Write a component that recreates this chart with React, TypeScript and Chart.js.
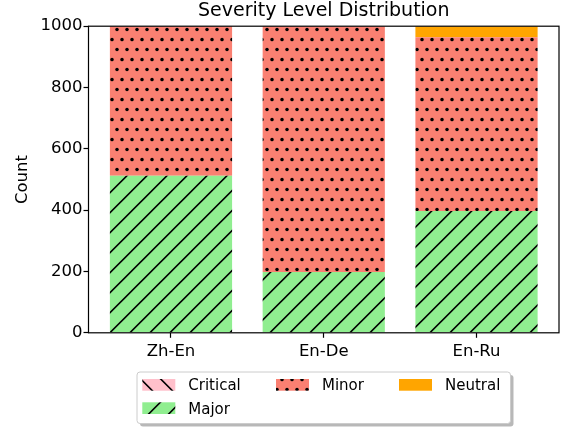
import React, { useEffect, useRef } from 'react';
import { Chart, registerables } from 'chart.js';

Chart.register(...registerables);

// ---- data ----
const categories = ['Zh-En', 'En-De', 'En-Ru'];
const critical = [0, 0, 3];
const major = [512, 198, 394];
const minor = [488, 802, 567];
const neutral = [0, 0, 36];
const seriesNames = ['Critical', 'Major', 'Minor', 'Neutral'];
const yTickStep = 200;
const yMax = 1000;

const FONT = 'DejaVu Sans';

function makeTile(bg: string, draw?: (c: CanvasRenderingContext2D) => void): CanvasPattern | string {
  if (!draw) return bg;
  const cv = document.createElement('canvas');
  cv.width = 20;
  cv.height = 20;
  const c = cv.getContext('2d')!;
  c.fillStyle = bg;
  c.fillRect(0, 0, 20, 20);
  draw(c);
  const p = c.createPattern(cv, 'repeat');
  return p || bg;
}

function slashLines(c: CanvasRenderingContext2D, off: number) {
  c.strokeStyle = '#000';
  c.lineWidth = 1.6;
  c.beginPath();
  for (let k = -1; k <= 2; k++) {
    c.moveTo(off + 20 * k + 5, -5);
    c.lineTo(off + 20 * k - 25, 25);
  }
  c.stroke();
}

function backLines(c: CanvasRenderingContext2D, off: number) {
  c.strokeStyle = '#000';
  c.lineWidth = 1.6;
  c.beginPath();
  for (let k = -2; k <= 1; k++) {
    c.moveTo(off + 20 * k - 5, -5);
    c.lineTo(off + 20 * k + 25, 25);
  }
  c.stroke();
}

function dots(c: CanvasRenderingContext2D) {
  c.fillStyle = '#000';
  const pts: [number, number][] = [];
  for (const dx of [-20, 0, 20]) {
    for (const dy of [-20, 0, 20]) {
      pts.push([2 + dx, 19.5 + dy], [12 + dx, 19.5 + dy], [7 + dx, 9.5 + dy], [17 + dx, 9.5 + dy]);
    }
  }
  for (const [x, y] of pts) {
    c.beginPath();
    c.arc(x, y, 1.75, 0, Math.PI * 2);
    c.fill();
  }
}

export default function App() {
  const ref = useRef<HTMLCanvasElement | null>(null);

  useEffect(() => {
    const canvas = ref.current;
    if (!canvas) return;

    const fills = [
      makeTile('#FFC0CB', (c) => backLines(c, 1.7)),
      makeTile('#90EE90', (c) => slashLines(c, 2.7)),
      makeTile('#FA8072', dots),
      makeTile('#FFA500'),
    ];
    const values = [critical, major, minor, neutral];

    const spines = {
      id: 'spines',
      afterDatasetsDraw(chart: any) {
        const { ctx, chartArea: a } = chart;
        ctx.save();
        ctx.strokeStyle = '#000';
        ctx.lineWidth = 1.2;
        ctx.strokeRect(a.left, a.top, a.right - a.left, a.bottom - a.top);
        ctx.restore();
      },
    };

    const legendBox = {
      id: 'legendBox',
      afterDraw(chart: any) {
        const ctx: CanvasRenderingContext2D = chart.ctx;
        ctx.save();
        const bx = 137, by = 372, bw = 373.5, bh = 51.5, r = 3;
        const rr = (x: number, y: number) => {
          ctx.beginPath();
          ctx.moveTo(x + r, y);
          ctx.lineTo(x + bw - r, y);
          ctx.quadraticCurveTo(x + bw, y, x + bw, y + r);
          ctx.lineTo(x + bw, y + bh - r);
          ctx.quadraticCurveTo(x + bw, y + bh, x + bw - r, y + bh);
          ctx.lineTo(x + r, y + bh);
          ctx.quadraticCurveTo(x, y + bh, x, y + bh - r);
          ctx.lineTo(x, y + r);
          ctx.quadraticCurveTo(x, y, x + r, y);
          ctx.closePath();
        };
        rr(bx + 3, by + 3);
        ctx.fillStyle = 'rgba(0,0,0,0.28)';
        ctx.fill();
        rr(bx, by);
        ctx.fillStyle = '#fff';
        ctx.fill();
        ctx.strokeStyle = '#cccccc';
        ctx.lineWidth = 1;
        ctx.stroke();

        const items = [
          { i: 0, x: 142.3, y: 379 },
          { i: 1, x: 142.3, y: 402.3 },
          { i: 2, x: 276, y: 379 },
          { i: 3, x: 399, y: 379 },
        ];
        ctx.font = `15px "${FONT}"`;
        ctx.textBaseline = 'alphabetic';
        ctx.textAlign = 'left';
        for (const it of items) {
          ctx.fillStyle = fills[it.i] as any;
          ctx.fillRect(it.x, it.y, 33, 11.7);
          ctx.fillStyle = '#000';
          ctx.fillText(seriesNames[it.i], it.x + 46, it.y + 11.3);
        }
        ctx.restore();
      },
    };

    const tickFont = { family: FONT, size: 16.5 };

    const chart = new Chart(canvas, {
      type: 'bar',
      data: {
        datasets: seriesNames.map((name, s) => ({
          label: name,
          data: categories.map((_, i) => ({ x: i, y: values[s][i] })),
          backgroundColor: fills[s] as any,
          borderWidth: 0,
          barPercentage: 0.8,
          categoryPercentage: 1.0,
        })),
      },
      options: {
        animation: false,
        responsive: false,
        devicePixelRatio: 1,
        layout: { padding: { left: 0, right: 2, top: 0, bottom: 0 } },
        scales: {
          x: {
            type: 'linear',
            min: -0.54,
            max: 2.54,
            offset: false,
            stacked: true,
            afterBuildTicks: (s: any) => {
              s.ticks = categories.map((_, i) => ({ value: i }));
            },
            afterFit: (s: any) => {
              s.height = 94.2;
            },
            ticks: {
              callback: (v: any) => categories[v as number] ?? '',
              font: tickFont,
              color: '#000',
              padding: 4,
              maxRotation: 0,
              autoSkip: false,
            },
            grid: {
              offset: false,
              drawOnChartArea: false,
              drawTicks: true,
              tickLength: 5,
              tickColor: '#000',
              tickWidth: 1.2,
            },
            border: { display: false },
          },
          y: {
            type: 'linear',
            min: 0,
            max: yMax,
            stacked: true,
            afterFit: (s: any) => {
              s.width = 88.5;
            },
            ticks: {
              stepSize: yTickStep,
              font: tickFont,
              color: '#000',
              padding: 1,
              callback: (v: any) => String(v),
            },
            grid: { drawOnChartArea: false, drawTicks: true, tickLength: 5, tickColor: '#000', tickWidth: 1.2 },
            border: { display: false },
            title: {
              display: true,
              text: 'Count',
              color: '#000',
              font: { family: FONT, size: 16.5 },
              padding: { top: 13, bottom: 0 },
            },
          },
        },
        plugins: {
          legend: { display: false },
          tooltip: { enabled: false },
          title: {
            display: true,
            fullSize: false,
            text: 'Severity Level Distribution',
            color: '#000',
            font: { family: FONT, size: 19, weight: 'normal' },
            padding: { top: 0, bottom: 3.4 },
          },
        },
      },
      plugins: [spines, legendBox],
    });

    return () => chart.destroy();
  }, []);

  return (
    <div style={{ position: 'absolute', left: 0, top: 0, width: 561, height: 427 }}>
      <canvas ref={ref} width={561} height={427} style={{ display: 'block' }} />
    </div>
  );
}
